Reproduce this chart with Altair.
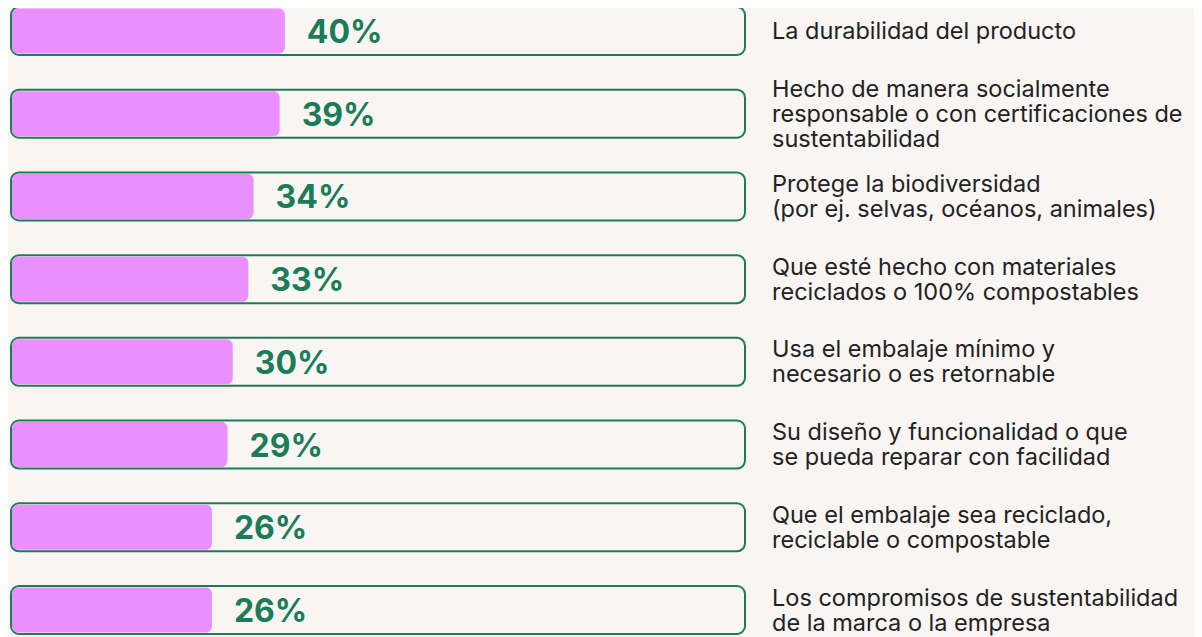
import altair as alt
import pandas as pd

labels = [
    "La durabilidad del producto",
    "Hecho de manera socialmente\nresponsable o con certificaciones de\nsustentabilidad",
    "Protege la biodiversidad\n(por ej. selvas, océanos, animales)",
    "Que esté hecho con materiales\nreciclados o 100% compostables",
    "Usa el embalaje mínimo y\nnecesario o es retornable",
    "Su diseño y funcionalidad o que\nse pueda reparar con facilidad",
    "Que el embalaje sea reciclado,\nreciclable o compostable",
    "Los compromisos de sustentabilidad\nde la marca o la empresa",
]
values = [40, 39, 34, 33, 30, 29, 26, 26]
pct_text = [f"{v}%" for v in values]

df = pd.DataFrame({
    "label": labels,
    "pct": values,
    "txt": pct_text,
    "row": list(range(len(labels))),
    "nlines": [l.count("\n") + 1 for l in labels],
})

BG = "#f8f5f3"
GREEN = "#1a7c58"
PINK = "#ea90fe"

y = alt.Y("row:O", sort=None, axis=None, scale=alt.Scale(type="point", range=[23, 602], padding=0))
xs = alt.Scale(domain=[-12.55, 128.3], range=[0, 734])

base = alt.Chart(df)

track = base.mark_bar(height=48, cornerRadius=8, fill=BG, stroke=GREEN, strokeWidth=2).encode(
    x=alt.value(0), x2=alt.value(734), y=y
)
bar = base.mark_bar(height=45, cornerRadius=6, fill=PINK).encode(
    x=alt.X("pct:Q", scale=xs, axis=None), x2=alt.datum(-12.36), y=y
)
pct = base.mark_text(
    align="left", baseline="middle", dx=22, dy=2, font="Inter", fontWeight=700, fontSize=32, color=GREEN
).encode(x=alt.X("pct:Q", scale=xs, axis=None), y=y, text="txt:N")

LH = 25
label_layers = []
for n in (1, 2, 3):
    label_layers.append(
        base.transform_filter(alt.datum.nlines == n).mark_text(
            align="left", baseline="middle", font="Inter", fontSize=23.5, color="#222222",
            lineBreak="\n", lineHeight=LH, dy=1 - (n - 1) * LH / 2
        ).encode(x=alt.value(761), y=y, text="label:N")
    )

chart = (
    alt.layer(track, bar, pct, *label_layers)
    .properties(width=1183, height=640, padding={"left": 3, "right": 0, "top": 0, "bottom": 0},
                autosize=alt.AutoSizeParams(type="none"), background=BG)
    .configure_view(stroke=None)
)
chart.save("out.html", embed_options={"renderer": "svg", "actions": False})
